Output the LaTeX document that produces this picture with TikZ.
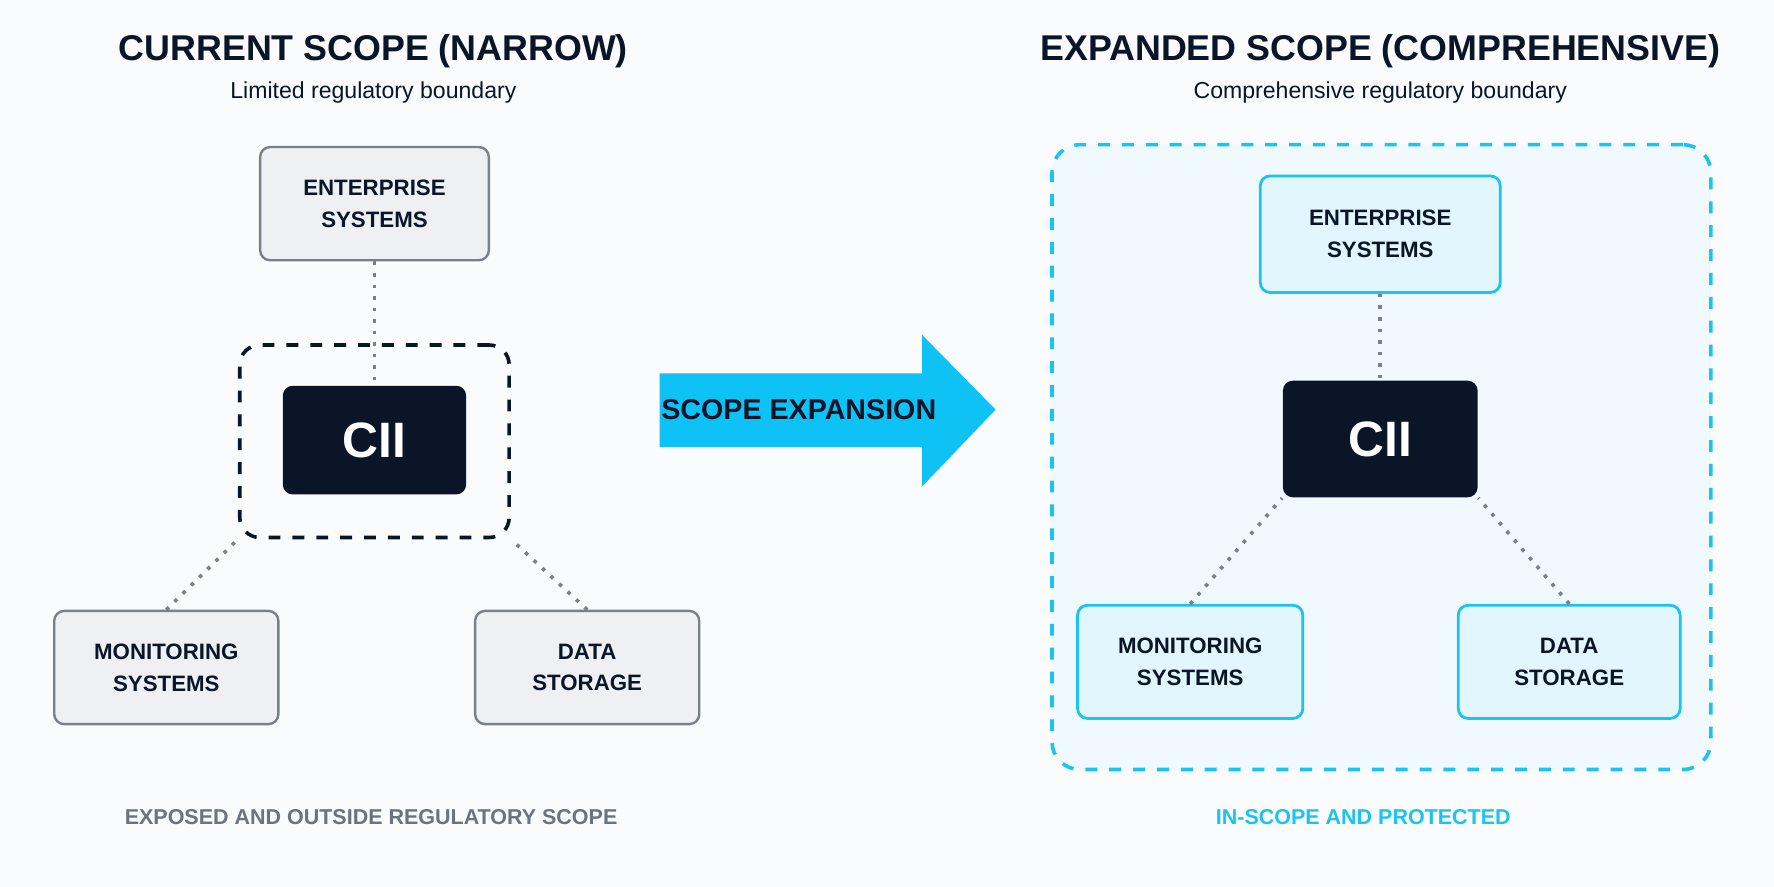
\documentclass[tikz,border=0pt]{standalone}
\usepackage{fontspec}
\setmainfont{Liberation Sans}
\usetikzlibrary{positioning}
\definecolor{navy}{HTML}{0B1528}
\definecolor{greyline}{HTML}{7A808A}
\definecolor{greyfill}{HTML}{EEF0F3}
\definecolor{cyanline}{HTML}{1BC3F0}
\definecolor{cyanfill}{HTML}{E2F6FD}
\definecolor{zonefill}{HTML}{F0FAFE}
\definecolor{captiongrey}{HTML}{6B7380}
\definecolor{pagefill}{HTML}{FAFBFC}
\definecolor{arrowfill}{HTML}{0EC2F5}
\tikzset{
  title/.style={font=\bfseries\fontsize{9}{10}\selectfont, text=navy},
  subtitle/.style={font=\fontsize{5.8}{7}\selectfont, text=navy},
  caption/.style={font=\bfseries\fontsize{5.4}{6}\selectfont},
  oldbox/.style={draw=greyline, fill=greyfill, line width=0.6pt, rounded corners=2.5pt,
    minimum width=2.02cm, minimum height=1.0cm, align=center, text=navy,
    font=\bfseries\fontsize{5.6}{8}\selectfont},
  newbox/.style={oldbox, draw=cyanline, fill=cyanfill, line width=0.7pt},
  ciibox/.style={fill=navy, rounded corners=2.5pt, minimum width=1.62cm,
    minimum height=0.96cm, text=white, font=\bfseries\fontsize{12.5}{14}\selectfont},
  link/.style={draw=greyline, line width=0.9pt, dotted}
}
\begin{document}
\begin{tikzpicture}[x=0.01cm,y=-0.01cm]
\useasboundingbox (0,0) rectangle (1568,784);
\fill[pagefill] (0,0) rectangle (1568,784);

% left: current scope
\node[title] (lefttitle) at (330,45) {CURRENT SCOPE (NARROW)};
\node[subtitle] (leftsub) at (330,82) {Limited regulatory boundary};
\node[oldbox] (oldent) at (331,180) {ENTERPRISE\\SYSTEMS};
\node[draw=navy, dashed, line width=0.9pt, rounded corners=5pt,
  minimum width=2.38cm, minimum height=1.7cm] (oldzone) at (331,390) {};
\node[ciibox] (oldcii) at (331,389) {CII};
\node[oldbox, minimum width=1.98cm] (oldmon) at (147,590) {MONITORING\\SYSTEMS};
\node[oldbox, minimum width=1.98cm] (olddata) at (519,590) {DATA\\STORAGE};
\draw[link] (oldent) -- (oldcii);
\draw[link] (oldmon.north) -- (oldzone.south west);
\draw[link] (olddata.north) -- (oldzone.south east);
\node[caption, text=captiongrey] (leftcap) at (328,722) {EXPOSED AND OUTSIDE REGULATORY SCOPE};

% arrow
\fill[arrowfill] (583,330) -- (815,330) -- (815,296) -- (880,362) -- (815,430)
  -- (815,395) -- (583,395) -- cycle;
\node[font=\bfseries\fontsize{7.2}{8}\selectfont, text=navy] (shiftlabel) at (706,362) {SCOPE EXPANSION};

% right: expanded scope
\node[title] (righttitle) at (1220,45) {EXPANDED SCOPE (COMPREHENSIVE)};
\node[subtitle] (rightsub) at (1220,82) {Comprehensive regulatory boundary};
\node[draw=cyanline, fill=zonefill, dashed, line width=0.9pt, rounded corners=7pt,
  minimum width=5.82cm, minimum height=5.52cm] (newzone) at (1221,404) {};
\node[newbox, minimum width=2.12cm, minimum height=1.03cm] (newent) at (1220,207) {ENTERPRISE\\SYSTEMS};
\node[ciibox, minimum width=1.72cm, minimum height=1.03cm] (newcii) at (1220,388) {CII};
\node[newbox, minimum width=1.99cm] (newmon) at (1052,585) {MONITORING\\SYSTEMS};
\node[newbox, minimum width=1.96cm] (newdata) at (1387,585) {DATA\\STORAGE};
\draw[link] (newent) -- (newcii);
\draw[link] (newmon.north) -- (newcii.south west);
\draw[link] (newdata.north) -- (newcii.south east);
\node[caption, text=cyanline] (rightcap) at (1205,722) {IN-SCOPE AND PROTECTED};
\end{tikzpicture}
\end{document}
